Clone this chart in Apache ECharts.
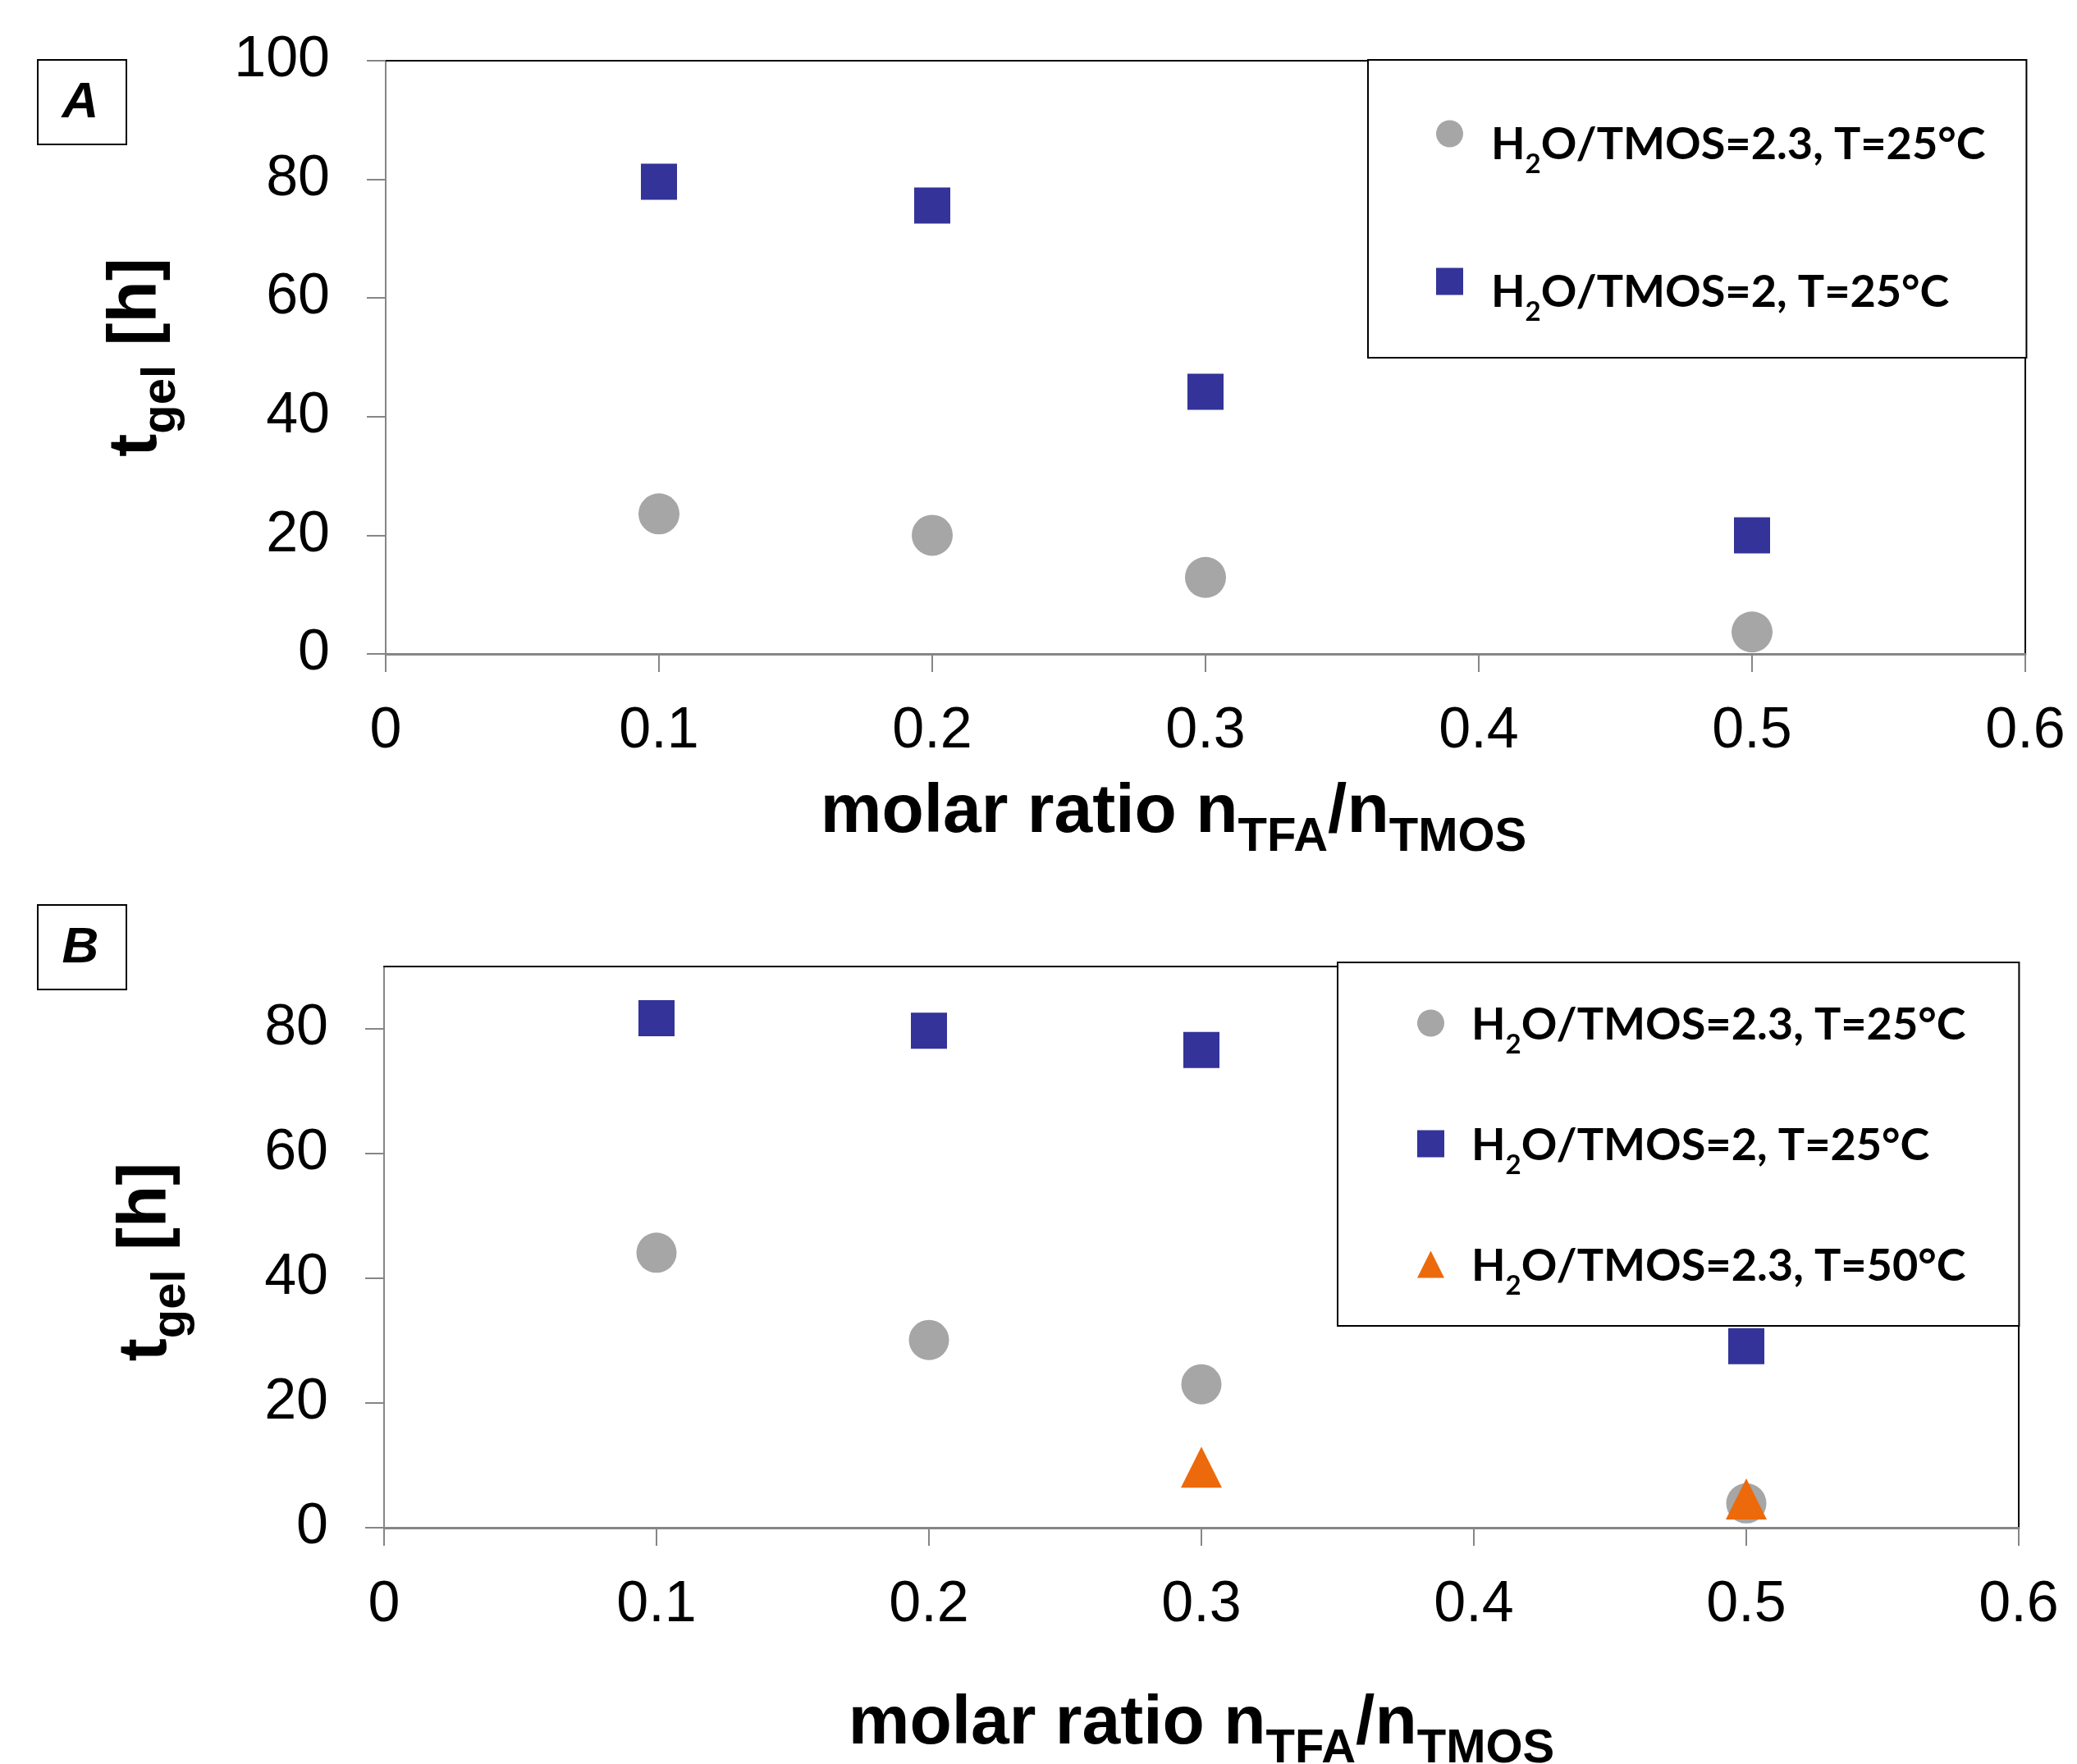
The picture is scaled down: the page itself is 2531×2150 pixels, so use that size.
<!DOCTYPE html>
<html lang="en">
<head>
    <meta charset="UTF-8" />
    <title>t_gel vs molar ratio</title>
    <script src="https://cdn.jsdelivr.net/npm/echarts@6/dist/echarts.min.js"></script>
    <style>html, body { margin: 0; padding: 0; background: #fff; }</style>
</head>
<body>
    <div id="main" style="width: 2531px; height: 2150px"></div>
    <script>
        // values
        var xTicks = [0, 0.1, 0.2, 0.3, 0.4, 0.5, 0.6];
        var yTicksA = [0, 20, 40, 60, 80, 100];
        var yTicksB = [0, 20, 40, 60, 80];

        var seriesNames = ["H2O/TMOS=2.3, T=25°C", "H2O/TMOS=2, T=25°C", "H2O/TMOS=2.3, T=50°C"];

        // panel A
        var ratioA = [0.1, 0.2, 0.3, 0.5];
        var grayA = [23.6, 20.0, 12.9, 3.7];
        var blueA = [79.6, 75.6, 44.2, 20.0];

        // panel B
        var ratioB = [0.1, 0.2, 0.3, 0.5];
        var grayB = [44.1, 30.1, 23.0, 3.9];
        var blueB = [81.7, 79.7, 76.6, 29.1];
        var ratioOrangeB = [0.3, 0.5];
        var orangeB = [9.7, 4.6];
    </script>
    <script>
        var chart = echarts.init(document.getElementById("main"));

        var FONT = "'Liberation Sans', Arial, sans-serif";
        var LEGEND_FONT = "Lato, 'Open Sans', sans-serif";
        var AXIS_GRAY = "#868686";
        var colors = ["#A6A6A6", "#333399", "#EC6A0C"];

        function zip(xs, ys) {
            return xs.map(function (x, i) { return [x, ys[i]]; });
        }

        // bold axis title with subscripts
        var nameRich = {
            m: { fontFamily: FONT, fontWeight: "bold", fontSize: 84, lineHeight: 84, verticalAlign: "top", color: "#000" },
            s: { fontFamily: FONT, fontWeight: "bold", fontSize: 58, lineHeight: 58, verticalAlign: "top", padding: [43, 0, 0, 0], color: "#000" }
        };

        function xAxisMain(gi, gap, pad) {
            return {
                type: "value", gridIndex: gi, min: 0, max: 0.6, interval: 0.1,
                name: "{m|molar ratio n}{s|TFA}{m|/n}{s|TMOS}",
                nameLocation: "middle", nameGap: gap,
                nameTextStyle: { rich: nameRich, padding: pad },
                axisLine: { onZero: false, lineStyle: { color: AXIS_GRAY, width: 3 } },
                axisTick: { inside: false, length: 22, lineStyle: { color: AXIS_GRAY, width: 2 } },
                axisLabel: { margin: 60, fontFamily: FONT, fontSize: 70, color: "#000" },
                splitLine: { show: false }
            };
        }

        function yAxisMain(gi, max, ticks, gap, pad) {
            return {
                type: "value", gridIndex: gi, min: 0, max: max, interval: 20,
                name: "{m|t}{s|gel}{m| [h]}",
                nameLocation: "middle", nameGap: gap,
                nameTextStyle: { rich: nameRich, padding: pad },
                axisLine: { onZero: false, lineStyle: { color: AXIS_GRAY, width: 2 } },
                axisTick: { inside: false, length: 23, customValues: ticks, lineStyle: { color: AXIS_GRAY, width: 2 } },
                axisLabel: { margin: 68, customValues: ticks, fontFamily: FONT, fontSize: 70, color: "#000" },
                splitLine: { show: false }
            };
        }

        // black frame on top / right of plot area
        function xAxisFrame(gi) {
            return {
                type: "value", gridIndex: gi, position: "top", min: 0, max: 0.6,
                axisLine: { onZero: false, lineStyle: { color: "#000", width: 2 } },
                axisTick: { show: false }, axisLabel: { show: false }, splitLine: { show: false }
            };
        }
        function yAxisFrame(gi, max) {
            return {
                type: "value", gridIndex: gi, position: "right", min: 0, max: max,
                axisLine: { onZero: false, lineStyle: { color: "#000", width: 2 } },
                axisTick: { show: false }, axisLabel: { show: false }, splitLine: { show: false }
            };
        }

        // legend text: f = first token (carries the gap after the icon), s = subscript
        // lift moves the text up against the icon while keeping the box height
        function legendRich(gap, lift) {
            return {
                f: { fontFamily: LEGEND_FONT, fontWeight: "bold", fontSize: 54, lineHeight: 54, verticalAlign: "top", padding: [14 - lift, 0, 0, gap], color: "#000" },
                m: { fontFamily: LEGEND_FONT, fontWeight: "bold", fontSize: 54, lineHeight: 54, verticalAlign: "top", padding: [14 - lift, 0, 0, 0], color: "#000" },
                s: { fontFamily: LEGEND_FONT, fontWeight: "bold", fontSize: 33, lineHeight: 33, verticalAlign: "top", padding: [48 - lift, 0, lift, 0], color: "#000" }
            };
        }
        function legendLabel(name) {
            return "{f|H}{s|2}{m|" + name.slice(2) + "}";
        }
        function makeLegend(names, left, top, pad, gap, textGap, lift) {
            return {
                data: names, orient: "vertical", left: left, top: top,
                padding: pad, itemGap: gap, itemWidth: 33, itemHeight: 33,
                backgroundColor: "#fff", borderColor: "#000", borderWidth: 2,
                formatter: legendLabel,
                textStyle: { rich: legendRich(textGap, lift) },
                selectedMode: false
            };
        }

        function scatter(name, xi, yi, data, symbol, size, color) {
            return {
                type: "scatter", name: name, xAxisIndex: xi, yAxisIndex: yi,
                data: data, symbol: symbol, symbolSize: size,
                itemStyle: { color: color, opacity: 1 }
            };
        }

        function panelBox(label, top) {
            return {
                type: "group", left: 45, top: top,
                children: [
                    { type: "rect", shape: { x: 0, y: 0, width: 108, height: 103 }, style: { fill: "#fff", stroke: "#000", lineWidth: 2 } },
                    { type: "text", x: 52, y: 53, style: { text: label, fontFamily: FONT, fontWeight: "bold", fontStyle: "italic", fontSize: 62, fill: "#000", align: "center", verticalAlign: "middle" } }
                ]
            };
        }

        var option = {
            backgroundColor: "#fff",
            animation: false,
            grid: [
                { left: 470, top: 74, right: 63, bottom: 1353, outerBoundsMode: "none" },
                { left: 468, top: 1178, right: 71, bottom: 288, outerBoundsMode: "none" }
            ],
            xAxis: [xAxisMain(0, 152, [0, 78, 0, 0]), xAxisMain(1, 198, 0), xAxisFrame(0), xAxisFrame(1)],
            yAxis: [yAxisMain(0, 100, yTicksA, 261, 0), yAxisMain(1, 90, yTicksB, 247, [0, 36, 0, 0]), yAxisFrame(0, 100), yAxisFrame(1, 90)],
            legend: [
                makeLegend(seriesNames.slice(0, 2), 1667, 73, [63, 50, 39, 83], 99, 29, 0),
                makeLegend(seriesNames, 1630, 1173, [47, 65, 21, 97], 66, 28, 11)
            ],
            graphic: [panelBox("A", 72), panelBox("B", 1102)],
            series: [
                scatter(seriesNames[0], 0, 0, zip(ratioA, grayA), "circle", 50, colors[0]),
                scatter(seriesNames[1], 0, 0, zip(ratioA, blueA), "rect", 44, colors[1]),
                scatter(seriesNames[0], 1, 1, zip(ratioB, grayB), "circle", 49, colors[0]),
                scatter(seriesNames[1], 1, 1, zip(ratioB, blueB), "rect", 44, colors[1]),
                scatter(seriesNames[2], 1, 1, zip(ratioOrangeB, orangeB), "triangle", 50, colors[2])
            ]
        };

        chart.setOption(option);
    </script>
</body>
</html>
